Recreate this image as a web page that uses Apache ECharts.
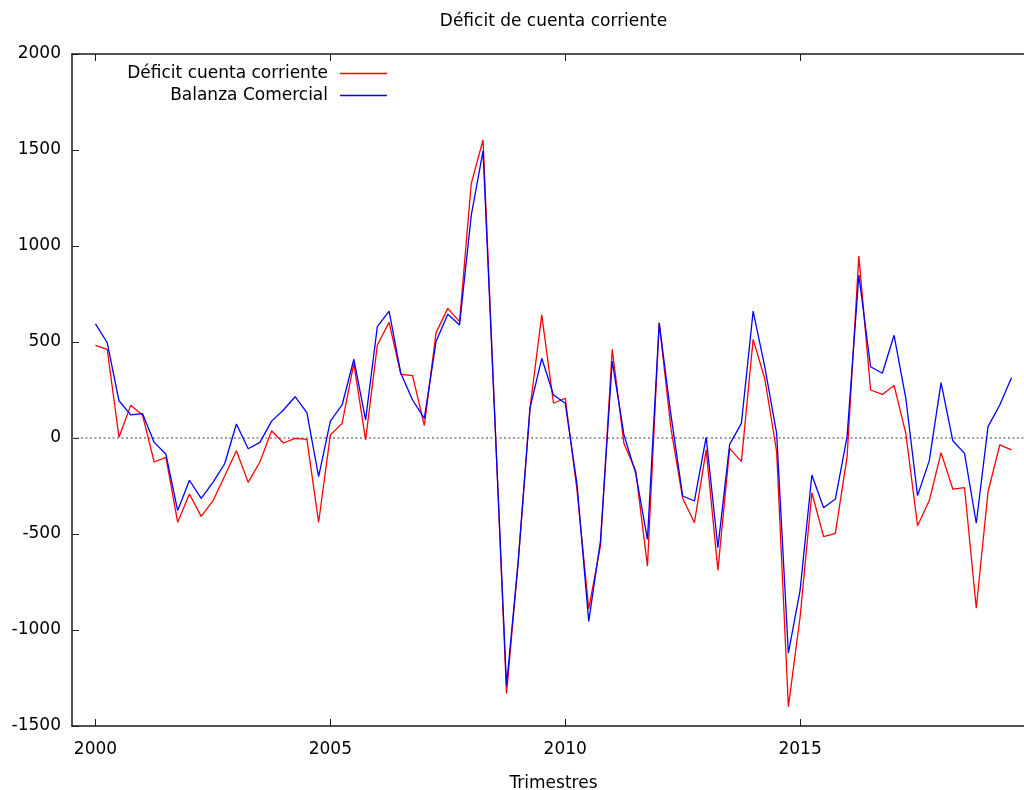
<!DOCTYPE html>
<html>
<head>
<meta charset="utf-8">
<title>Déficit de cuenta corriente</title>
<script src="https://cdn.jsdelivr.net/npm/echarts@6/dist/echarts.min.js"></script>
<style>
  html, body { margin: 0; padding: 0; background: #ffffff; overflow: hidden; }
  #chart { width: 1024px; height: 790px; }
</style>
</head>
<body>
<div id="chart"></div>
<script>
// Quarterly series, first quarter of 2000 through third quarter of 2019
const startYear = 2000;
const quartersPerYear = 4;

const deficitCuentaCorriente = [
  483, 462, 4, 170, 120, -125, -101, -439,
  -292, -408, -328, -198, -66, -231, -125, 38,
  -26, -2, -7, -439, 16, 76, 389, -10,
  484, 602, 332, 325, 64, 549, 675, 606,
  1326, 1552, 115, -1330, -640, 156, 641, 181,
  207, -270, -890, -560, 462, -28, -170, -667,
  601, 50, -314, -441, -62, -688, -54, -123,
  514, 306, -71, -1399, -931, -285, -514, -497,
  -97, 948, 250, 227, 274, 24, -457, -326,
  -76, -266, -259, -887, -280, -36, -62
];

const balanzaComercial = [
  594, 496, 194, 120, 127, -23, -85, -378,
  -220, -314, -231, -134, 73, -56, -23, 88,
  146, 215, 132, -201, 88, 172, 410, 94,
  580, 661, 337, 198, 102, 502, 644, 589,
  1161, 1496, 105, -1290, -640, 156, 415, 224,
  181, -240, -955, -535, 401, 16, -184, -528,
  598, 120, -302, -328, 4, -571, -33, 76,
  661, 368, 24, -1121, -792, -193, -363, -318,
  7, 849, 371, 337, 535, 207, -300, -118,
  288, -14, -80, -444, 59, 172, 314
];

const seriesNames = ['Déficit cuenta corriente', 'Balanza Comercial'];
const yTicks = [-1500, -1000, -500, 0, 500, 1000, 1500, 2000];
const xTicks = [2000, 2005, 2010, 2015];

// Pair each value with its quarter position on the time axis
function toPoints(values) {
  return values.map((v, i) => [startYear + i / quartersPerYear, v]);
}

const FONT = 'DejaVu Sans';
const FS = 17;
const AXIS_COLOR = '#1a1a1a';

const chart = echarts.init(document.getElementById('chart'), null, { renderer: 'canvas' });

function xAxisBase() {
  return {
    type: 'value',
    min: 1999.5,
    max: 2020,
    splitLine: { show: false },
    axisLine: { show: true, onZero: false, lineStyle: { color: AXIS_COLOR, width: 1.5 } },
    axisTick: {
      show: true, inside: true, length: 7,
      customValues: xTicks,
      lineStyle: { color: AXIS_COLOR, width: 1 }
    }
  };
}

function legendFor(name, top) {
  return {
    data: [name],
    right: 637,
    top: top,
    padding: 0,
    align: 'right',
    icon: 'rect',
    itemWidth: 47,
    itemHeight: 1.5,
    selectedMode: false,
    textStyle: { fontFamily: FONT, fontSize: FS, color: '#000000', padding: [0, 7, 0, 0] }
  };
}

chart.setOption({
  animation: false,
  backgroundColor: '#ffffff',
  title: {
    text: 'Déficit de cuenta corriente',
    left: 553.5,
    top: 13,
    padding: 0,
    textAlign: 'center',
    textStyle: { fontFamily: FONT, fontSize: FS, fontWeight: 'normal', color: '#000000' }
  },
  legend: [legendFor(seriesNames[0], 65), legendFor(seriesNames[1], 87)],
  grid: {
    left: 72, top: 54, width: 963, height: 672,
    containLabel: false,
    outerBoundsMode: 'none'
  },
  xAxis: [
    Object.assign(xAxisBase(), {
      position: 'bottom',
      name: 'Trimestres',
      nameLocation: 'middle',
      nameGap: 49,
      nameTextStyle: { fontFamily: FONT, fontSize: FS, color: '#000000' },
      axisLabel: {
        show: true, margin: 15,
        customValues: xTicks,
        fontFamily: FONT, fontSize: FS, color: '#000000',
        formatter: v => String(v)
      }
    }),
    Object.assign(xAxisBase(), {
      position: 'top',
      axisLabel: { show: false }
    })
  ],
  yAxis: {
    type: 'value',
    min: yTicks[0],
    max: yTicks[yTicks.length - 1],
    interval: 500,
    splitLine: { show: false },
    axisLine: { show: true, onZero: false, lineStyle: { color: AXIS_COLOR, width: 1.5 } },
    axisTick: { show: true, inside: true, length: 7, lineStyle: { color: AXIS_COLOR, width: 1 } },
    axisLabel: {
      margin: 11, fontFamily: FONT, fontSize: FS, color: '#000000',
      formatter: v => String(v)
    }
  },
  series: [
    {
      name: seriesNames[0],
      type: 'line',
      xAxisIndex: 0,
      data: toPoints(deficitCuentaCorriente),
      showSymbol: false,
      symbol: 'none',
      color: '#ff0000',
      lineStyle: { color: '#ff0000', width: 1.3 },
      z: 3,
      markLine: {
        silent: true,
        symbol: 'none',
        label: { show: false },
        lineStyle: { color: '#808080', width: 1.5, type: [2, 2.5] },
        data: [{ yAxis: 0 }],
        z: 1
      }
    },
    {
      name: seriesNames[1],
      type: 'line',
      xAxisIndex: 0,
      data: toPoints(balanzaComercial),
      showSymbol: false,
      symbol: 'none',
      color: '#0000ff',
      lineStyle: { color: '#0000ff', width: 1.3 },
      z: 4
    }
  ]
});
</script>
</body>
</html>
